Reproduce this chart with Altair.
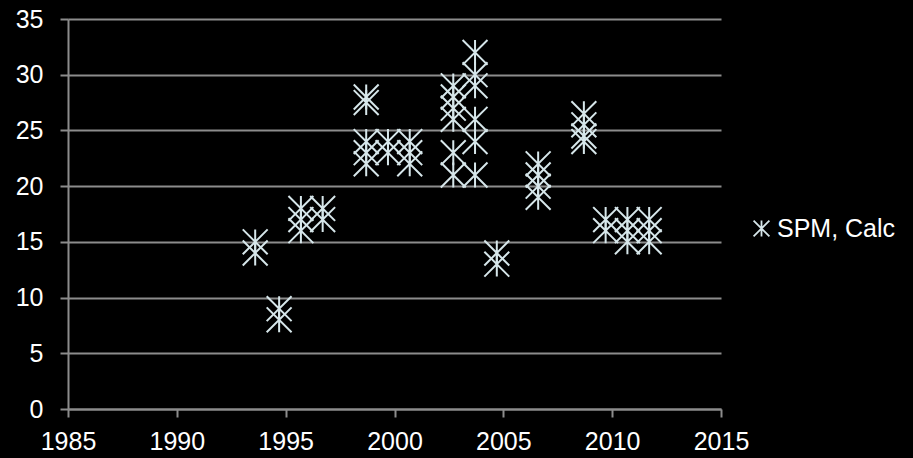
import altair as alt
import pandas as pd
import jinja2

# Data
years = (
    [1993.6] * 2 + [1994.7] * 2 + [1995.7] * 3 + [1996.7] * 2 +
    [1998.7] * 5 + [1999.7] * 2 + [2000.7] * 3 + [2002.7] * 6 +
    [2003.7] * 6 + [2004.7] * 2 + [2006.6] * 4 + [2008.7] * 4 +
    [2009.7] * 2 + [2010.7] * 3 + [2011.7] * 3
)
values = [
    15, 14,
    9, 8,
    18, 17, 16,
    18, 17,
    28, 27.5, 24, 23, 22,
    24, 23,
    24, 23, 22,
    29, 28, 27, 26, 23, 21,
    32, 30, 29, 26, 24, 21,
    14, 13,
    22, 21, 20, 19,
    26.5, 25.5, 24.5, 24,
    17, 16,
    17, 16, 15,
    17, 16, 15,
]
series_name = "SPM, Calc"
x_ticks = [1985, 1990, 1995, 2000, 2005, 2010, 2015]
y_ticks = [0, 5, 10, 15, 20, 25, 30, 35]

df = pd.DataFrame({"year": years, "value": values, "series": [series_name] * len(years)})

STAR = "M-1,-1L1,1M-1,1L1,-1M0,-1L0,1"
MARK_COLOR = "#D6E6EA"
GRID = "#8C8C8C"
FONT = "Liberation Sans"

chart = (
    alt.Chart(df)
    .mark_point(shape=STAR, filled=False, size=620, strokeWidth=2, opacity=1)
    .encode(
        x=alt.X(
            "year:Q",
            scale=alt.Scale(domain=[1985, 2015], nice=False, zero=False),
            axis=alt.Axis(values=x_ticks, format="d", grid=False, title=None,
                          tickSize=8, labelPadding=12, labelFlush=False,
                          labelOverlap=False),
        ),
        y=alt.Y(
            "value:Q",
            scale=alt.Scale(domain=[0, 35], nice=False),
            axis=alt.Axis(values=y_ticks, grid=True, title=None,
                          tickSize=8, labelPadding=17, labelFlush=False,
                          labelOverlap=False),
        ),
        color=alt.Color(
            "series:N",
            scale=alt.Scale(range=[MARK_COLOR]),
            legend=alt.Legend(
                title=None, orient="none", legendX=681, legendY=197,
                symbolType=STAR, symbolSize=250, symbolStrokeWidth=1.8,
                labelFontSize=25, labelColor="white", labelFont=FONT,
                padding=0, labelOffset=3,
            ),
        ),
    )
    .properties(width=653, height=390, background="black",
                autosize=alt.AutoSizeParams(type="none"),
                padding={"left": 68, "top": 19, "right": 192, "bottom": 49})
    .configure_view(stroke=None)
    .configure_axis(
        domainColor=GRID, domainWidth=2, tickColor=GRID, tickWidth=2,
        gridColor=GRID, gridWidth=2, labelColor="white", labelFontSize=25,
        labelFont=FONT,
    )
)

PAGE = jinja2.Template("""<!DOCTYPE html>
<html>
<head>
  <meta charset="utf-8">
  <style>
    html, body { margin: 0; padding: 0; background: #000; overflow: hidden; }
    #{{ output_div }}.vega-embed { width: 100%; display: flex; }
  </style>
  <script type="text/javascript" src="{{ base_url }}/vega@{{ vega_version }}"></script>
  <script type="text/javascript" src="{{ base_url }}/vega-lite@{{ vegalite_version }}"></script>
  <script type="text/javascript" src="{{ base_url }}/vega-embed@{{ vegaembed_version }}"></script>
</head>
<body>
  <div id="{{ output_div }}"></div>
  <script type="text/javascript">
    (function(vegaEmbed) {
      var spec = {{ spec }};
      var embedOpt = {{ embed_options }};
      function showError(el, error){
        el.innerHTML = ('<div style="color:red;"><p>JavaScript Error: ' + error.message + '</p></div>');
        throw error;
      }
      const el = document.getElementById('{{ output_div }}');
      vegaEmbed("#{{ output_div }}", spec, embedOpt).catch(error => showError(el, error));
    })(vegaEmbed);
  </script>
</body>
</html>
""")

chart.save("out.html", embed_options={"renderer": "svg", "actions": False}, template=PAGE)
